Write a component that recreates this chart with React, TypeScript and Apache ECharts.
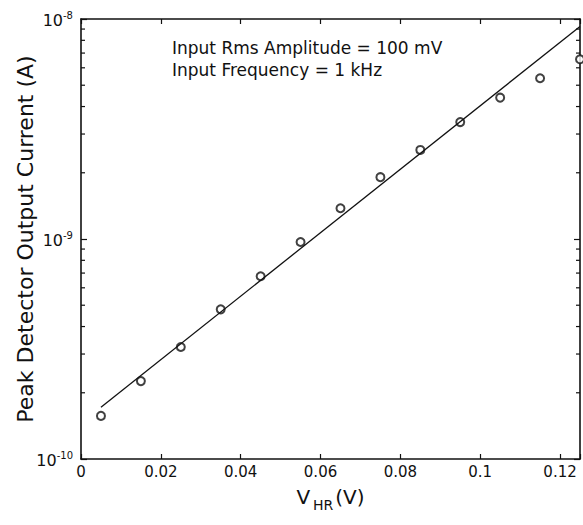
import React, { useEffect, useRef } from "react";
import * as echarts from "echarts";

const xValues = [0.005, 0.015, 0.025, 0.035, 0.045, 0.055, 0.065, 0.075, 0.085, 0.095, 0.105, 0.115, 0.125];
const currentValues = [1.57e-10, 2.26e-10, 3.23e-10, 4.79e-10, 6.77e-10, 9.69e-10, 1.38e-9, 1.91e-9, 2.54e-9, 3.4e-9, 4.39e-9, 5.38e-9, 6.56e-9];
const fitX = [0.005, 0.125];
const fitY = [1.72e-10, 9.25e-9];
const minorTickValues = [2e-10, 3e-10, 4e-10, 5e-10, 6e-10, 7e-10, 8e-10, 9e-10, 2e-9, 3e-9, 4e-9, 5e-9, 6e-9, 7e-9, 8e-9, 9e-9];
const annotationLines = ["Input Rms Amplitude = 100 mV", "Input Frequency = 1 kHz"];

const FONT = "DejaVu Sans";
const INK = "#111";

export default function App() {
  const ref = useRef<HTMLDivElement>(null);
  useEffect(() => {
    if (!ref.current) return;
    const chart = echarts.init(ref.current, null, { renderer: "svg" });
    const axisLine = { show: true, onZero: false, lineStyle: { color: INK, width: 1.6 } };
    const tickStyle = { color: INK, width: 1.2 };
    const XMIN = 0, XMAX = 0.125;
    chart.setOption({
      animation: false,
      backgroundColor: "#fff",
      grid: { left: 81, right: 3, top: 19, bottom: 66, containLabel: false, outerBoundsMode: "none" },
      xAxis: [
        {
          type: "value", min: XMIN, max: XMAX, interval: 0.02, position: "bottom",
          axisLine, axisTick: { inside: true, length: 5, lineStyle: tickStyle },
          splitLine: { show: false },
          axisLabel: {
            fontSize: 15, fontFamily: FONT, color: INK, margin: 5,
            formatter: (v: number) => (Math.abs(v - XMAX) < 1e-9 ? "" : String(parseFloat(v.toFixed(3)))),
          },
          name: "{v|V}{s|HR}{v|(V)}",
          nameLocation: "middle", nameGap: 28, nameMoveOverlap: false,
          nameTextStyle: {
            rich: {
              v: { fontSize: 20, fontFamily: FONT, color: INK, verticalAlign: "top", lineHeight: 24 },
              s: { fontSize: 14, fontFamily: FONT, color: INK, verticalAlign: "top", padding: [11, 2, 0, 3], lineHeight: 16 },
            },
          },
        },
        {
          type: "value", min: XMIN, max: XMAX, interval: 0.02, position: "top",
          axisLine, axisTick: { inside: true, length: 5, lineStyle: tickStyle },
          splitLine: { show: false }, axisLabel: { show: false },
        },
      ],
      yAxis: [
        {
          type: "log", logBase: 10, min: 1e-10, max: 1e-8, position: "left",
          axisLine, axisTick: { inside: true, length: 6, lineStyle: tickStyle },
          splitLine: { show: false }, minorTick: { show: false },
          axisLabel: {
            margin: 8,
            formatter: (v: number) => `{b|10}{s|${Math.round(Math.log10(v))}}`,
            rich: {
              b: { fontSize: 16, fontFamily: FONT, color: INK, verticalAlign: "bottom", lineHeight: 18 },
              s: { fontSize: 10, fontFamily: FONT, color: INK, verticalAlign: "top", lineHeight: 18, padding: [0, 0, 6, 0] },
            },
          },
          name: "Peak Detector Output Current (A)",
          nameLocation: "middle", nameGap: 45, nameRotate: 90, nameMoveOverlap: false,
          nameTextStyle: { fontSize: 22, fontFamily: FONT, color: INK },
        },
        {
          type: "log", logBase: 10, min: 1e-10, max: 1e-8, position: "right",
          axisLine, axisTick: { inside: true, length: 6, lineStyle: tickStyle },
          splitLine: { show: false }, axisLabel: { show: false },
        },
      ],
      series: [
        {
          type: "line", xAxisIndex: 0, yAxisIndex: 0,
          data: fitX.map((x, i) => [x, fitY[i]]),
          showSymbol: false, symbol: "none",
          lineStyle: { color: INK, width: 1.3 },
          silent: true,
        },
        {
          type: "scatter", xAxisIndex: 0, yAxisIndex: 0,
          data: xValues.map((x, i) => [x, currentValues[i]]),
          symbol: "emptyCircle", symbolSize: 8,
          itemStyle: { color: INK, borderColor: INK, borderWidth: 1.3 },
          silent: true,
        },
        {
          type: "custom", xAxisIndex: 0, yAxisIndex: 0,
          data: minorTickValues.map((v) => [XMIN, v]),
          silent: true,
          renderItem: (params: any, api: any) => {
            const v = api.value(1);
            const p = api.coord([XMIN, v]);
            const q = api.coord([XMAX, v]);
            return {
              type: "group",
              children: [
                { type: "line", shape: { x1: p[0], y1: p[1], x2: p[0] + 4, y2: p[1] }, style: { stroke: INK, lineWidth: 1.2 } },
                { type: "line", shape: { x1: q[0] - 4, y1: q[1], x2: q[0], y2: q[1] }, style: { stroke: INK, lineWidth: 1.2 } },
              ],
            };
          },
        },
      ],
      graphic: [
        {
          type: "text", left: 172, top: 37,
          style: { text: annotationLines.join("\n"), font: `17px "${FONT}"`, fill: INK, lineHeight: 22 },
        },
      ],
    });
    return () => chart.dispose();
  }, []);
  return <div ref={ref} style={{ position: "fixed", left: 0, top: 0, width: 583, height: 525 }} />;
}
